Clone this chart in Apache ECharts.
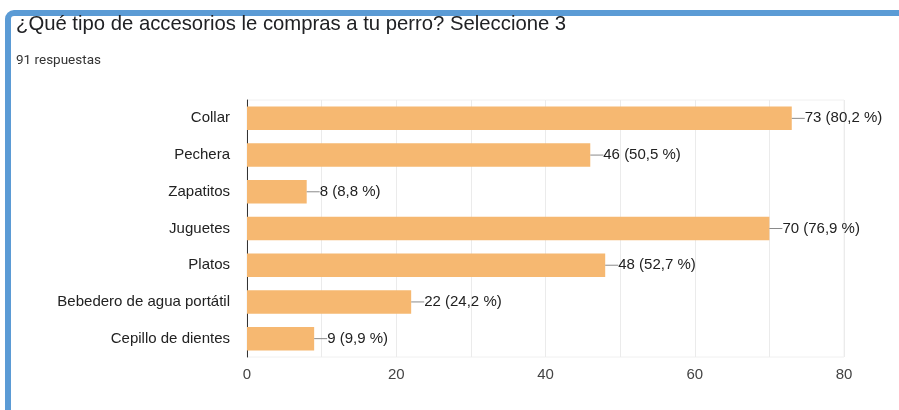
<!DOCTYPE html>
<html>
<head>
<meta charset="utf-8">
<script src="https://cdn.jsdelivr.net/npm/echarts@6/dist/echarts.min.js"></script>
<style>
  html, body { margin: 0; padding: 0; background: #fff; }
</style>
</head>
<body>
<div id="chart-box" style="width: 899px; height: 410px"></div>
<script>
const categories = ['Collar', 'Pechera', 'Zapatitos', 'Juguetes', 'Platos', 'Bebedero de agua portátil', 'Cepillo de dientes'];
const counts = [73, 46, 8, 70, 48, 22, 9];
const percents = ['80,2', '50,5', '8,8', '76,9', '52,7', '24,2', '9,9'];
const xTicks = [0, 20, 40, 60, 80];
const totalAnswers = 91;

const option = {
  animation: false,
  textStyle: { fontFamily: 'Arial, "Liberation Sans", sans-serif' },
  graphic: [
    {
      type: 'rect',
      shape: { x: 8, y: 13, width: 1000, height: 600, r: 6 },
      style: { fill: 'none', stroke: '#5b9bd5', lineWidth: 6 },
    },
    {
      type: 'text',
      left: 16,
      top: 14,
      style: {
        text: '¿Qué tipo de accesorios le compras a tu perro? Seleccione 3',
        font: '20.3px Arial, "Liberation Sans", sans-serif',
        fill: '#202124',
      },
    },
    {
      type: 'text',
      left: 16,
      top: 54,
      style: {
        text: totalAnswers + ' respuestas',
        font: '13.5px Roboto, sans-serif',
        fill: '#333',
      },
    },
  ],
  grid: {
    left: 247,
    right: 55,
    top: 100,
    bottom: 53,
    show: true,
    borderColor: '#f0f0f0',
    borderWidth: 1,
  },
  xAxis: {
    type: 'value',
    min: 0,
    max: 80,
    interval: 10,
    axisLine: { show: false }, // sin línea del eje x
    axisTick: { show: false },
    splitLine: { lineStyle: { color: '#ebebeb' } },
    axisLabel: {
      color: '#444',
      fontSize: 15,
      margin: 10,
      formatter: (v) => (xTicks.includes(v) ? String(v) : ''),
    },
  },
  yAxis: {
    type: 'category',
    data: categories,
    inverse: true,
    axisLine: { show: true, lineStyle: { color: '#333', width: 1 } },
    axisTick: { show: false },
    axisLabel: { color: '#222', fontSize: 15, margin: 17 },
  },
  series: [
    {
      type: 'bar',
      data: counts,
      barWidth: '64%',
      itemStyle: { color: '#f6b871' },
      label: {
        show: true,
        position: 'right',
        distance: 0,
        formatter: (p) => '{l|}{t|' + p.value + ' (' + percents[p.dataIndex] + ' %)}',
        rich: {
          l: { width: 13, height: 1, backgroundColor: '#8a8a8a' },
          t: { color: '#222', fontSize: 15 },
        },
      },
    },
  ],
};

const mycharts = echarts.init(document.getElementById('chart-box'));
mycharts.setOption(option);
window.addEventListener('resize', () => {
  mycharts.resize();
});
</script>
</body>
</html>
